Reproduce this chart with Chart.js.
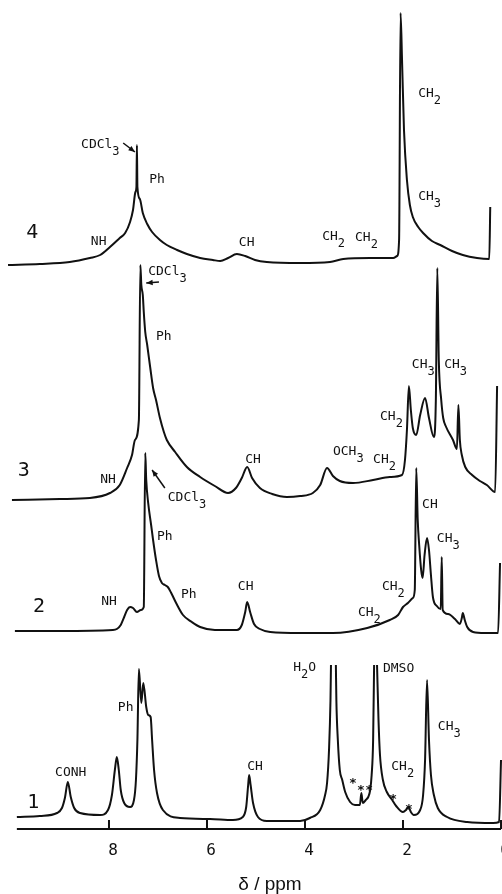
<!DOCTYPE html>
<html>
<head>
<meta charset="utf-8">
<script src="https://cdn.jsdelivr.net/npm/chart.js@4.4.0/dist/chart.umd.min.js"></script>
<style>
  body { margin: 0; background: #fff; }
</style>
</head>
<body>
<canvas id="nmrChart" width="502" height="894"></canvas>
<script>
// chemical shift ticks (ppm)
const tickValues = [8, 6, 4, 2, 0];
const axisStart = 9.88;

// vertical stacking offset of each trace
const offsets = [12, 198, 329, 564];

// trace 1 (DMSO)
const spec1Ppm = [9.88, 9.41, 9.06, 8.96, 8.90, 8.84, 8.78, 8.71, 8.59, 8.18, 8.02, 7.94, 7.88, 7.84, 7.80, 7.76, 7.69, 7.57, 7.49, 7.45,
  7.42, 7.39, 7.34, 7.30, 7.24, 7.20, 7.15, 7.12, 7.08, 7.02, 6.90, 6.55, 5.94, 5.47, 5.27, 5.20, 5.16, 5.14, 5.11, 5.06,
  4.96, 4.78, 4.10, 3.90, 3.69, 3.59, 3.55, 3.51, 3.48, 3.47, 3.42, 3.37, 3.36, 3.33, 3.29, 3.24, 3.18, 3.08, 2.98, 2.88,
  2.85, 2.82, 2.76, 2.71, 2.67, 2.64, 2.61, 2.59, 2.56, 2.53, 2.50, 2.47, 2.41, 2.33, 2.22, 2.14, 2.00, 1.94, 1.89, 1.84,
  1.78, 1.65, 1.59, 1.55, 1.51, 1.47, 1.43, 1.37, 1.29, 1.10, 0.69, 0.16, 0.04, 0.00];
const spec1Int = [0, 1, 4, 9, 19, 35, 20, 9, 4, 2, 7, 22, 47, 60, 47, 27, 14, 10, 17, 37,
  77, 148, 114, 134, 110, 102, 100, 77, 47, 24, 7, -1, -2, -3, 0, 10, 32, 42, 32, 14,
  0, -4, -4, -1, 7, 22, 34, 67, 117, 152, null, 152, 117, 77, 47, 37, 25, 15, 12, 12,
  24, 14, 17, 20, 27, 42, 77, 152, null, 152, 97, 62, 37, 25, 17, 11, 5, 7, 10, 5,
  2, 7, 22, 57, 137, 77, 42, 22, 9, 0, -5, -6, -5, 57];

// trace 2
const spec2Ppm = [9.92, 9.00, 7.92, 7.84, 7.76, 7.69, 7.63, 7.57, 7.51, 7.43, 7.35, 7.29, 7.26, 7.24, 7.20, 7.14, 7.10, 7.04, 6.98, 6.92,
  6.86, 6.80, 6.73, 6.63, 6.49, 6.31, 6.14, 5.84, 5.39, 5.29, 5.22, 5.18, 5.12, 5.04, 4.92, 4.71, 4.10, 3.43, 2.73, 2.27,
  2.10, 2.00, 1.90, 1.80, 1.76, 1.73, 1.70, 1.67, 1.63, 1.60, 1.56, 1.51, 1.47, 1.43, 1.39, 1.31, 1.23, 1.21, 1.19, 1.08,
  0.94, 0.84, 0.80, 0.78, 0.74, 0.69, 0.57, 0.33, 0.06, 0.02];
const spec2Int = [0, 0, 1, 2, 6, 14, 21, 24, 23, 19, 21, 24, 178, 151, 128, 106, 91, 71, 55, 48,
  46, 44, 38, 28, 16, 9, 4, 1, 1, 6, 19, 29, 19, 7, 2, -1, -2, -2, 3, 11,
  16, 24, 28, 33, 41, 163, 111, 86, 61, 53, 76, 93, 81, 56, 34, 25, 22, 74, 21, 17,
  12, 7, 13, 18, 11, 4, -1, -2, -2, 68];

// trace 3
const spec3Ppm = [9.98, 9.00, 8.39, 7.98, 7.78, 7.63, 7.53, 7.47, 7.39, 7.36, 7.34, 7.31, 7.29, 7.26, 7.22, 7.16, 7.10, 7.04, 6.96, 6.88,
  6.82, 6.65, 6.41, 6.14, 5.84, 5.57, 5.41, 5.29, 5.18, 5.08, 4.92, 4.67, 4.37, 4.10, 3.84, 3.69, 3.55, 3.43, 3.29, 3.02,
  2.61, 2.27, 2.02, 1.96, 1.92, 1.88, 1.84, 1.80, 1.73, 1.65, 1.55, 1.47, 1.37, 1.33, 1.30, 1.27, 1.22, 1.18, 1.12, 0.98,
  0.90, 0.87, 0.84, 0.80, 0.73, 0.59, 0.43, 0.29, 0.12, 0.08];
const spec3Int = [0, 1, 2, 7, 15, 32, 45, 60, 80, 235, 215, 205, 188, 168, 155, 133, 112, 100, 82, 68,
  60, 48, 33, 23, 14, 7, 12, 22, 33, 22, 12, 6, 3, 4, 7, 15, 32, 24, 19, 17,
  20, 23, 25, 40, 70, 114, 90, 72, 65, 85, 102, 82, 63, 100, 232, 140, 100, 82, 73, 60,
  51, 95, 60, 45, 33, 25, 19, 15, 8, 114];

// trace 4
const spec4Ppm = [10.06, 9.41, 8.80, 8.39, 8.18, 7.98, 7.78, 7.67, 7.57, 7.51, 7.46, 7.44, 7.43, 7.42, 7.37, 7.31, 7.22, 7.12, 6.96, 6.82,
  6.61, 6.41, 6.14, 5.88, 5.73, 5.57, 5.39, 5.22, 5.02, 4.78, 4.10, 3.49, 3.22, 2.67, 2.20, 2.12, 2.08, 2.05, 2.02, 1.98,
  1.92, 1.86, 1.80, 1.69, 1.59, 1.41, 1.24, 1.00, 0.78, 0.49, 0.24, 0.22];
const spec4Int = [0, 1, 3, 7, 10, 18, 27, 32, 43, 55, 73, 78, 120, 78, 66, 52, 41, 33, 25, 20,
  15, 11, 7, 5, 4, 7, 11, 9, 5, 3, 2, 3, 6, 7, 7, 9, 25, 252, 205, 135,
  85, 60, 48, 38, 32, 24, 20, 14, 10, 7, 6, 58];

const spectra = [[spec1Ppm, spec1Int], [spec2Ppm, spec2Int], [spec3Ppm, spec3Int], [spec4Ppm, spec4Int]];

// annotations: [text, ppm, height, big]; "_" marks a subscript character
const peakLabels = [
  ['4', 9.69, 596, true], ['NH', 8.37, 587], ['CDCl_3', 8.57, 684], ['Ph', 7.18, 649], ['CH', 5.35, 586],
  ['CH_2', 3.65, 592], ['CH_2', 2.98, 591], ['CH_2', 1.69, 735], ['CH_3', 1.69, 632],
  ['3', 9.86, 358, true], ['NH', 8.18, 349], ['CDCl_3', 7.20, 557], ['Ph', 7.04, 492], ['CH', 5.22, 369],
  ['OCH_3', 3.43, 377], ['CH_2', 2.61, 369], ['CH_2', 2.47, 412], ['CH_3', 1.82, 464], ['CH_3', 1.16, 464],
  ['CDCl_3', 6.80, 331],
  ['2', 9.55, 222, true], ['NH', 8.16, 227], ['Ph', 7.02, 292], ['Ph', 6.53, 234], ['CH', 5.37, 242],
  ['CH_2', 2.92, 216], ['CH_2', 2.43, 242], ['CH', 1.61, 324], ['CH_3', 1.31, 290],
  ['1', 9.67, 26, true], ['CONH', 9.10, 56], ['Ph', 7.82, 121], ['CH', 5.18, 62], ['H_2O', 4.24, 161],
  ['DMSO', 2.41, 160], ['CH_2', 2.24, 62], ['CH_3', 1.29, 102]
];
// impurity marks: [ppm, height]
const stars = [[3.02, 48], [2.86, 41], [2.69, 41], [2.20, 32], [1.88, 22]];
// solvent arrows: [fromPpm, fromH, toPpm, toH]
const arrows = [[7.71, 686, 7.47, 677], [6.98, 547, 7.24, 546], [6.86, 341, 7.12, 359]];

const MONO = '"DejaVu Sans Mono", monospace';

function drawChem(ctx, text, px, py, size) {
  let cx = px;
  text.split(/_(.)/).forEach((part, i) => {
    if (!part) return;
    const sub = i % 2 === 1;
    ctx.font = (sub ? size - 1 : size) + 'px ' + MONO;
    ctx.fillText(part, cx, sub ? py + 7 : py);
    cx += ctx.measureText(part).width;
  });
}

const annotate = {
  id: 'annotate',
  afterDatasetsDraw(chart) {
    const { ctx } = chart;
    const xs = chart.scales.x, ys = chart.scales.y;
    ctx.save();
    ctx.strokeStyle = '#111';
    ctx.fillStyle = '#111';
    ctx.lineWidth = 2;

    // axis line with inward ticks
    const y0 = ys.getPixelForValue(0);
    ctx.beginPath();
    ctx.moveTo(xs.getPixelForValue(axisStart), y0);
    ctx.lineTo(xs.getPixelForValue(0), y0);
    tickValues.forEach(v => {
      const px = xs.getPixelForValue(v);
      ctx.moveTo(px, y0);
      ctx.lineTo(px, y0 - 9);
    });
    ctx.stroke();

    ctx.textBaseline = 'middle';
    ctx.textAlign = 'left';
    peakLabels.forEach(([text, ppm, h, big]) => {
      const px = xs.getPixelForValue(ppm), py = ys.getPixelForValue(h);
      if (big) {
        ctx.font = '20px ' + MONO;
        ctx.fillText(text, px, py);
      } else {
        drawChem(ctx, text, px, py, 13);
      }
    });

    ctx.textAlign = 'center';
    ctx.font = 'bold 13px ' + MONO;
    stars.forEach(([ppm, h]) => {
      ctx.fillText('*', xs.getPixelForValue(ppm), ys.getPixelForValue(h) + 3);
    });

    ctx.lineWidth = 1.5;
    arrows.forEach(([p1, h1, p2, h2]) => {
      const x1 = xs.getPixelForValue(p1), y1 = ys.getPixelForValue(h1);
      const x2 = xs.getPixelForValue(p2), y2 = ys.getPixelForValue(h2);
      const a = Math.atan2(y2 - y1, x2 - x1);
      ctx.beginPath();
      ctx.moveTo(x1, y1);
      ctx.lineTo(x2, y2);
      ctx.stroke();
      ctx.beginPath();
      ctx.moveTo(x2, y2);
      ctx.lineTo(x2 - 7 * Math.cos(a - 0.4), y2 - 7 * Math.sin(a - 0.4));
      ctx.lineTo(x2 - 7 * Math.cos(a + 0.4), y2 - 7 * Math.sin(a + 0.4));
      ctx.closePath();
      ctx.fill();
    });

    // axis title
    ctx.font = '19px "Liberation Sans", Arial, sans-serif';
    ctx.textAlign = 'center';
    ctx.fillText('\u03b4 / ppm', 270, 885);
    ctx.restore();
  }
};

const datasets = spectra.map(([ppm, inten], k) => ({
  label: 'Spectrum ' + (k + 1),
  data: ppm.map((x, i) => ({ x, y: inten[i] === null ? null : offsets[k] + inten[i] })),
  borderColor: '#111',
  borderWidth: 2,
  pointRadius: 0,
  fill: false,
  spanGaps: false,
  cubicInterpolationMode: 'monotone',
  clip: false
}));

new Chart(document.getElementById('nmrChart').getContext('2d'), {
  type: 'line',
  data: { datasets },
  options: {
    responsive: false,
    animation: false,
    layout: { padding: 0 },
    plugins: { legend: { display: false }, tooltip: { enabled: false } },
    scales: {
      x: {
        type: 'linear',
        reverse: true,
        min: -0.02,
        max: 10.224,
        grid: { display: false, drawTicks: false },
        border: { display: false },
        afterBuildTicks: (scale) => { scale.ticks = tickValues.map(v => ({ value: v })); },
        afterFit: (scale) => {
          scale.height = 65;
          scale.paddingLeft = 0;
          scale.paddingRight = 0;
        },
        ticks: {
          color: '#111',
          padding: 12,
          labelOffset: 4,
          maxRotation: 0,
          autoSkip: false,
          font: { family: 'DejaVu Sans Mono', size: 16 }
        }
      },
      y: { display: false, min: 0, max: 829 }
    }
  },
  plugins: [annotate]
});
</script>
</body>
</html>
